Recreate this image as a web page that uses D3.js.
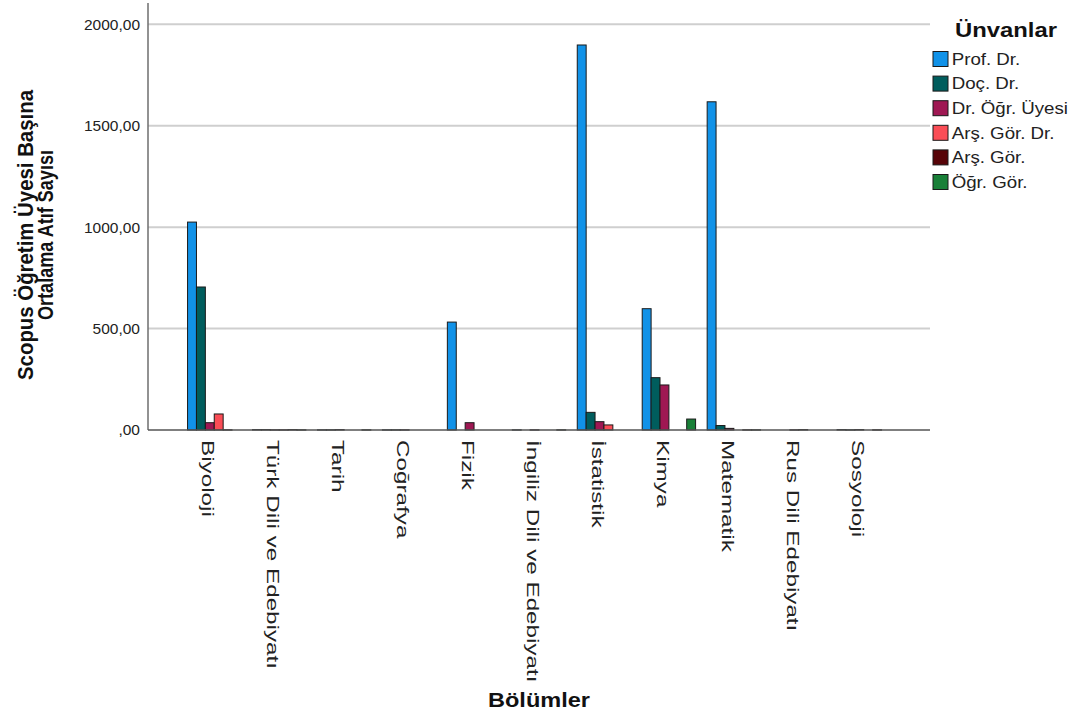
<!DOCTYPE html>
<html><head><meta charset="utf-8">
<script src="https://cdn.jsdelivr.net/npm/d3@7"></script>
<style>
html,body{margin:0;padding:0;background:#fff;}
svg{display:block;font-family:"Liberation Sans",Arial,sans-serif;}
</style></head>
<body>
<svg id="chart" width="1080" height="717"></svg>
<script>
const categories = ["Biyoloji","Türk Dili ve Edebiyatı","Tarih","Coğrafya","Fizik","İngiliz Dili ve Edebiyatı","İstatistik","Kimya","Matematik","Rus Dili Edebiyatı","Sosyoloji"];
const seriesNames = ["Prof. Dr.","Doç. Dr.","Dr. Öğr. Üyesi","Arş. Gör. Dr.","Arş. Gör.","Öğr. Gör."];
const seriesColors = ["#1192e8","#005d5d","#9f1853","#fa4d56","#570408","#198038"];
const profDr   = [1025, 2, 1, 1, 532, 1, 1898, 598, 1618, null, 2];
const docDr    = [705, 2, 1, 1, null, null, 87, 258, 22, null, 1];
const drOgr    = [36, 1, 2, 1, 36, 1, 41, 222, 8, 1, 2];
const arsDr    = [79, 1, null, null, null, null, 25, null, null, 2, null];
const arsGor   = [1, 2, null, null, null, null, null, null, 1, null, 1];
const ogrGor   = [null, 1, 1, null, null, 1, null, 54, 1, null, null];
const yTicks = [0, 500, 1000, 1500, 2000];
const yTickLabels = [",00","500,00","1000,00","1500,00","2000,00"];
const yTitle = ["Scopus Öğretim Üyesi Başına","Ortalama Atıf Sayısı"];
const xTitle = "Bölümler";
const legendTitle = "Ünvanlar";

const series = [profDr, docDr, drOgr, arsDr, arsGor, ogrGor];
const svg = d3.select("#chart");
const L = 148, R = 930, T = 3, B = 430;

const x0 = d3.scaleBand().domain(categories).range([L, R]).paddingInner(0).paddingOuter(0.52);
const x1 = d3.scaleBand().domain(d3.range(seriesNames.length)).range([0, x0.bandwidth()]).paddingInner(0).paddingOuter(0.65);
const y = d3.scaleLinear().domain([0, 2000]).range([B, 24.3]);

// gridlines
svg.append("g").selectAll("line").data(yTicks.filter(d => d > 0)).join("line")
  .attr("x1", L).attr("x2", R).attr("y1", d => y(d)).attr("y2", d => y(d))
  .attr("stroke", "#cfcfcf").attr("stroke-width", 2);

// y tick labels via axis
const yAxis = d3.axisLeft(y).tickValues(yTicks).tickSize(0).tickPadding(8)
  .tickFormat((d, i) => yTickLabels[i]);
const gy = svg.append("g").attr("transform", `translate(${L},0)`).call(yAxis);
gy.select(".domain").remove();
gy.selectAll("text").attr("font-size", 15.5).attr("fill", "#222").attr("font-family", "Liberation Sans, Arial");

// bars
const rows = [];
categories.forEach((c, ci) => series.forEach((s, si) => {
  if (s[ci] !== null && s[ci] !== undefined) rows.push({c, si, v: s[ci]});
}));
svg.append("g").selectAll("rect").data(rows).join("rect")
  .attr("x", d => x0(d.c) + x1(d.si))
  .attr("width", x1.bandwidth())
  .attr("y", d => y(d.v))
  .attr("height", d => Math.max(0.3, y(0) - y(d.v)))
  .attr("fill", d => seriesColors[d.si])
  .attr("stroke", "#1a1a1a").attr("stroke-width", 1);

// axes lines
svg.append("line").attr("x1", L).attr("x2", L).attr("y1", T).attr("y2", B)
  .attr("stroke", "#6e6e6e").attr("stroke-width", 1.5);
svg.append("line").attr("x1", L).attr("x2", R).attr("y1", B).attr("y2", B)
  .attr("stroke", "#555").attr("stroke-width", 1.5);

// x labels (rotated)
const xAxis = d3.axisBottom(x0).tickSize(0).tickPadding(0);
const gx = svg.append("g").attr("transform", `translate(0,${B})`).call(xAxis);
gx.select(".domain").remove();
gx.selectAll(".tick text")
  .attr("font-size", 16.5).attr("fill", "#222").attr("font-family", "Liberation Sans, Arial")
  .attr("text-anchor", "start").attr("dy", null).attr("y", null)
  .attr("dominant-baseline", "central")
  .attr("transform", "translate(-6,10) rotate(90) scale(1.47,1)");

// y title
const yt = svg.append("g").attr("transform", "translate(36,235) rotate(-90)");
yt.selectAll("text").data(yTitle).join("text")
  .attr("x", 0).attr("y", (d, i) => i * 20 - 3)
  .attr("text-anchor", "middle").attr("font-weight", "bold").attr("font-size", 21.5)
  .attr("fill", "#111")
  .attr("textLength", (d, i) => i === 0 ? 290 : 170).attr("lengthAdjust", "spacingAndGlyphs")
  .text(d => d);

// x title
svg.append("text").attr("x", 539).attr("y", 707).attr("text-anchor", "middle")
  .attr("font-weight", "bold").attr("font-size", 20).attr("fill", "#111")
  .attr("textLength", 102).attr("lengthAdjust", "spacingAndGlyphs").text(xTitle);

// legend
const lg = svg.append("g");
lg.append("text").attr("x", 955).attr("y", 37).attr("font-weight", "bold").attr("font-size", 21)
  .attr("fill", "#111").attr("textLength", 102).attr("lengthAdjust", "spacingAndGlyphs").text(legendTitle);
const items = lg.selectAll("g.item").data(seriesNames).join("g").attr("class", "item")
  .attr("transform", (d, i) => `translate(933,${59 + i * 24.6})`);
items.append("rect").attr("x", 0).attr("y", -7.5).attr("width", 15).attr("height", 15)
  .attr("fill", (d, i) => seriesColors[i]).attr("stroke", "#1a1a1a").attr("stroke-width", 1);
items.append("text").attr("x", 17).attr("y", 0).attr("dominant-baseline", "central")
  .attr("font-size", 17).attr("fill", "#222")
  .attr("transform", "scale(1.1,1)")
  .text(d => d);
</script>
</body></html>
